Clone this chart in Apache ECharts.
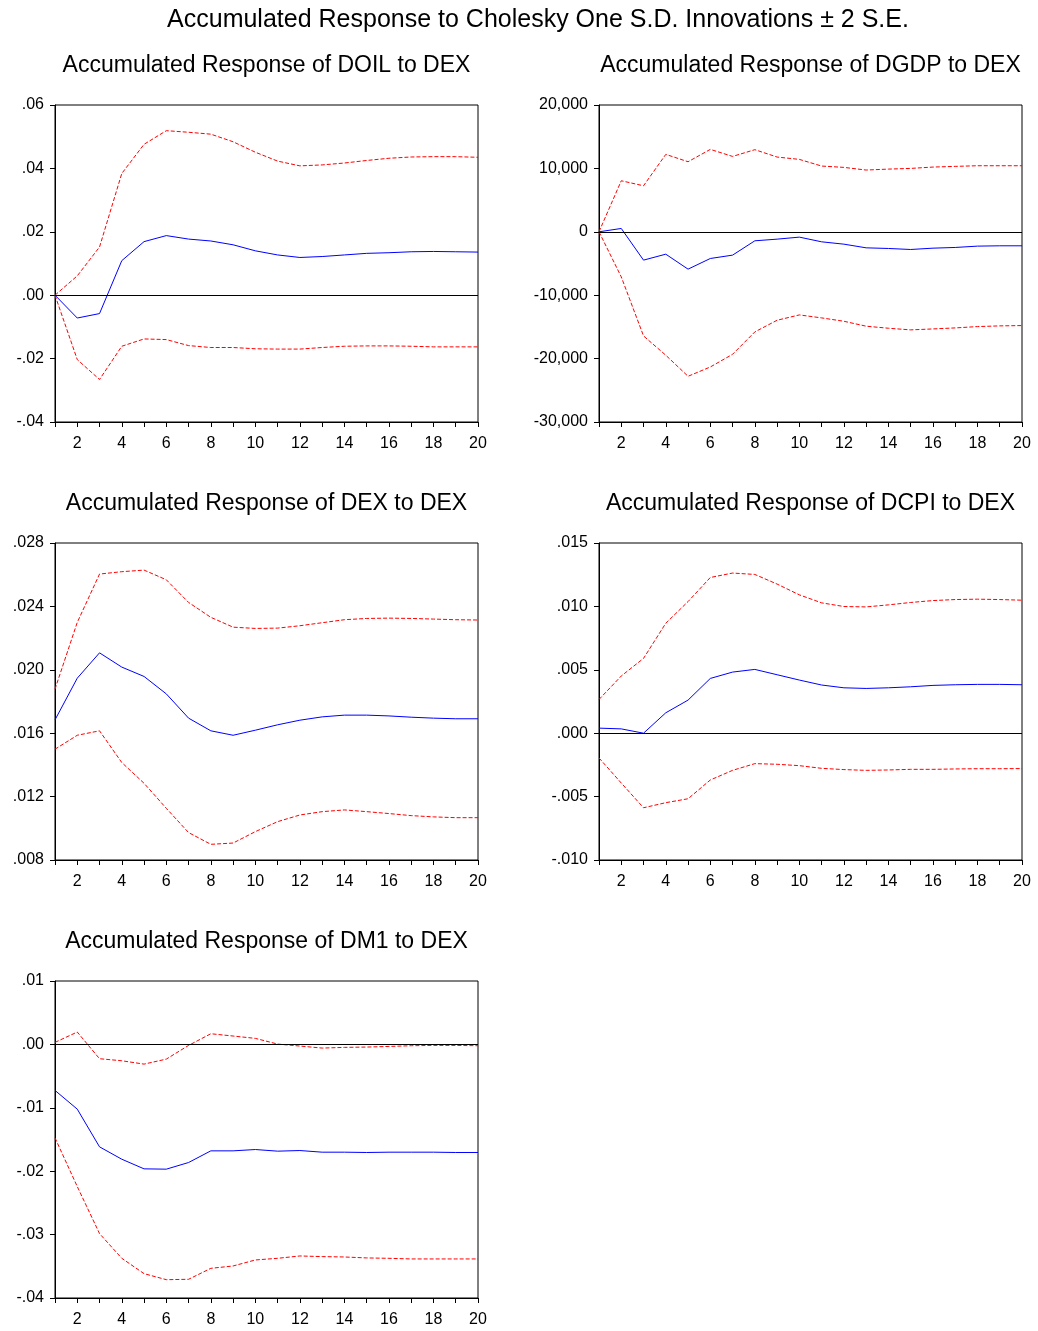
<!DOCTYPE html>
<html>
<head>
<meta charset="utf-8">
<script src="https://cdn.jsdelivr.net/npm/echarts@6/dist/echarts.min.js"></script>
<style>
html,body{margin:0;padding:0;background:#fff;}
#chart{width:1038px;height:1331px;}
</style>
</head>
<body>
<div id="chart"></div>
<script>
const periods = ['1','2','3','4','5','6','7','8','9','10','11','12','13','14','15','16','17','18','19','20'];

const mainTitle = 'Accumulated Response to Cholesky One S.D. Innovations \u00b1 2 S.E.';
const panelTitles = [
  'Accumulated Response of DOIL to DEX',
  'Accumulated Response of DGDP to DEX',
  'Accumulated Response of DEX to DEX',
  'Accumulated Response of DCPI to DEX',
  'Accumulated Response of DM1 to DEX'
];

// Panel 1: DOIL
const doilResp  = [0, -0.0072, -0.0058, 0.0109, 0.0169, 0.0188, 0.0177, 0.0171, 0.0159, 0.0140, 0.0127, 0.0119, 0.0122, 0.0127, 0.0132, 0.0134, 0.0137, 0.0138, 0.0137, 0.0136];
const doilUpper = [0, 0.0061, 0.0152, 0.0384, 0.0476, 0.0519, 0.0514, 0.0508, 0.0484, 0.0451, 0.0423, 0.0408, 0.0411, 0.0417, 0.0425, 0.0432, 0.0436, 0.0437, 0.0437, 0.0435];
const doilLower = [0, -0.0203, -0.0266, -0.0161, -0.0138, -0.0140, -0.0159, -0.0165, -0.0165, -0.0169, -0.0170, -0.0170, -0.0165, -0.0161, -0.0160, -0.0160, -0.0161, -0.0163, -0.0163, -0.0163];

// Panel 2: DGDP
const dgdpResp  = [0, 526, -4470, -3530, -5890, -4210, -3680, -1420, -1160, -840, -1580, -1950, -2530, -2630, -2790, -2580, -2470, -2260, -2210, -2210];
const dgdpUpper = [0, 8050, 7260, 12210, 11050, 13000, 11890, 12950, 11790, 11420, 10370, 10160, 9740, 9890, 10000, 10210, 10320, 10420, 10420, 10420];
const dgdpLower = [0, -7110, -16420, -19470, -22790, -21320, -19320, -15790, -13950, -13110, -13580, -14110, -14890, -15210, -15470, -15320, -15160, -14950, -14840, -14790];

// Panel 3: DEX
const dexResp  = [0.01684, 0.01947, 0.02107, 0.02017, 0.01958, 0.01848, 0.01695, 0.01615, 0.01587, 0.01619, 0.01653, 0.01682, 0.01703, 0.01714, 0.01714, 0.01709, 0.01701, 0.01695, 0.01691, 0.01691];
const dexUpper = [0.01878, 0.02299, 0.02604, 0.02619, 0.02629, 0.02568, 0.02425, 0.02331, 0.02269, 0.02261, 0.02263, 0.02278, 0.02297, 0.02316, 0.02324, 0.02326, 0.02324, 0.02320, 0.02316, 0.02314];
const dexLower = [0.01499, 0.01587, 0.01615, 0.01415, 0.01284, 0.01126, 0.00973, 0.00899, 0.00907, 0.00979, 0.01042, 0.01084, 0.01105, 0.01116, 0.01105, 0.01093, 0.01080, 0.01072, 0.01067, 0.01067];

// Panel 4: DCPI
const dcpiResp  = [0.00040, 0.00034, 0.00000, 0.00161, 0.00261, 0.00432, 0.00482, 0.00503, 0.00461, 0.00419, 0.00380, 0.00358, 0.00353, 0.00358, 0.00366, 0.00377, 0.00382, 0.00385, 0.00385, 0.00382];
const dcpiUpper = [0.00266, 0.00451, 0.00590, 0.00867, 0.01038, 0.01228, 0.01263, 0.01252, 0.01176, 0.01091, 0.01028, 0.00999, 0.00996, 0.01012, 0.01031, 0.01046, 0.01054, 0.01057, 0.01054, 0.01049];
const dcpiLower = [-0.00195, -0.00393, -0.00588, -0.00548, -0.00517, -0.00369, -0.00293, -0.00240, -0.00245, -0.00256, -0.00277, -0.00287, -0.00293, -0.00290, -0.00285, -0.00285, -0.00282, -0.00280, -0.00280, -0.00279];

// Panel 5: DM1
const dm1Resp  = [-0.00726, -0.01021, -0.01616, -0.01811, -0.01963, -0.01968, -0.01863, -0.01679, -0.01679, -0.01658, -0.01684, -0.01674, -0.01700, -0.01700, -0.01705, -0.01700, -0.01700, -0.01700, -0.01705, -0.01705];
const dm1Upper = [0.00032, 0.00195, -0.00226, -0.00258, -0.00311, -0.00232, -0.00016, 0.00168, 0.00132, 0.00095, 0.00005, -0.00026, -0.00058, -0.00047, -0.00042, -0.00032, -0.00021, -0.00016, -0.00016, -0.00021];
const dm1Lower = [-0.01474, -0.02242, -0.02984, -0.03374, -0.03616, -0.03711, -0.03705, -0.03532, -0.03495, -0.03400, -0.03374, -0.03337, -0.03347, -0.03353, -0.03368, -0.03374, -0.03384, -0.03384, -0.03384, -0.03384];

// y-axis ranges
const yRanges = [
  {min: -0.04, max: 0.06, interval: 0.02, dec: 2, zero: true},
  {min: -30000, max: 20000, interval: 10000, dec: -1, zero: true},
  {min: 0.008, max: 0.028, interval: 0.004, dec: 3, zero: false},
  {min: -0.010, max: 0.015, interval: 0.005, dec: 3, zero: true},
  {min: -0.04, max: 0.01, interval: 0.01, dec: 2, zero: true}
];

const panels = [
  [doilResp, doilUpper, doilLower],
  [dgdpResp, dgdpUpper, dgdpLower],
  [dexResp, dexUpper, dexLower],
  [dcpiResp, dcpiUpper, dcpiLower],
  [dm1Resp, dm1Upper, dm1Lower]
];

const gridPos = [
  {left: 55, top: 105},
  {left: 599, top: 105},
  {left: 55, top: 543},
  {left: 599, top: 543},
  {left: 55, top: 981}
];
const GW = 423, GH = 317;
const FONT = '"Liberation Sans", Arial, sans-serif';

function fmt(v, dec) {
  if (dec < 0) {
    return Math.round(v).toLocaleString('en-US');
  }
  let s = Math.abs(v).toFixed(dec);
  if (s.startsWith('0')) s = s.slice(1);
  return (v < -1e-12 ? '-' : '') + s;
}

const grids = [], xAxes = [], yAxes = [], series = [], graphics = [];

graphics.push({
  type: 'text', x: 538, y: 20,
  style: {text: mainTitle, textAlign: 'center', textVerticalAlign: 'middle',
          font: '25px ' + FONT, fill: '#000'}
});

panels.forEach((p, i) => {
  const g = gridPos[i];
  grids.push({left: g.left, top: g.top, width: GW, height: GH, show: true,
              borderColor: '#000', borderWidth: 1, containLabel: false});
  xAxes.push({
    type: 'category', gridIndex: i, data: periods, boundaryGap: false,
    axisLine: {show: true, lineStyle: {color: '#000', width: 1}, onZero: false},
    axisTick: {show: true, interval: 0, length: 5, lineStyle: {color: '#000'}},
    axisLabel: {interval: (idx, val) => (Number(val) % 2 === 0), margin: 14,
                fontSize: 16, fontFamily: FONT, color: '#000'},
    splitLine: {show: false}
  });
  const r = yRanges[i];
  yAxes.push({
    type: 'value', gridIndex: i, min: r.min, max: r.max, interval: r.interval,
    axisLine: {show: true, lineStyle: {color: '#000', width: 1}},
    axisTick: {show: true, length: 5, lineStyle: {color: '#000'}},
    axisLabel: {formatter: v => fmt(v, r.dec), margin: 11, fontSize: 16,
                fontFamily: FONT, color: '#000'},
    splitLine: {show: false}
  });
  graphics.push({
    type: 'text', x: g.left + GW / 2, y: g.top - 39,
    style: {text: panelTitles[i], textAlign: 'center', textVerticalAlign: 'middle',
            font: '23px ' + FONT, fill: '#000'}
  });
  const blue = {
    type: 'line', xAxisIndex: i, yAxisIndex: i, data: p[0], symbol: 'none',
    lineStyle: {color: '#0000ff', width: 1}, z: 4, animation: false
  };
  if (r.zero) {
    blue.markLine = {silent: true, symbol: 'none', label: {show: false},
      lineStyle: {color: '#000', type: 'solid', width: 1}, data: [{yAxis: 0}], animation: false};
  }
  series.push(blue);
  [p[1], p[2]].forEach(d => {
    series.push({
      type: 'line', xAxisIndex: i, yAxisIndex: i, data: d, symbol: 'none',
      lineStyle: {color: '#ff0000', width: 1, type: [4, 2]}, z: 3, animation: false
    });
  });
});

const chart = echarts.init(document.getElementById('chart'), null, {renderer: 'canvas'});
chart.setOption({
  animation: false,
  backgroundColor: '#fff',
  grid: grids, xAxis: xAxes, yAxis: yAxes, series: series, graphic: graphics
});
</script>
</body>
</html>
